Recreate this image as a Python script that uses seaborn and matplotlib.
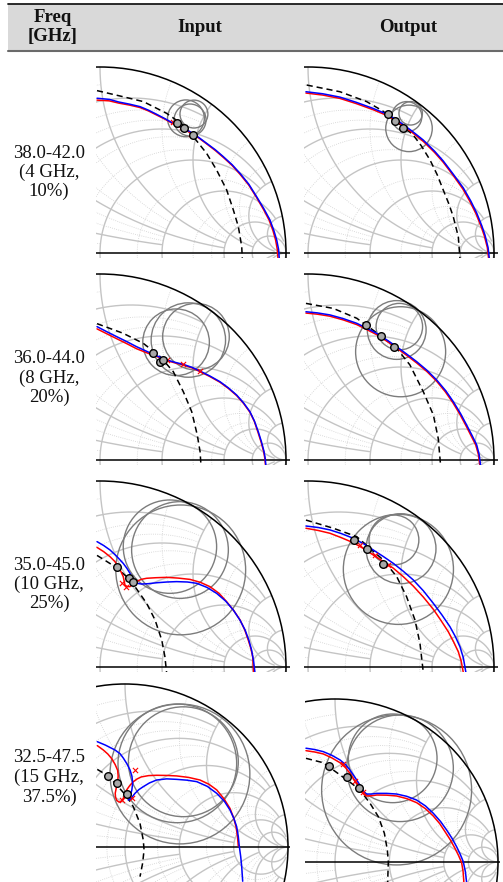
import numpy as np
import pandas as pd
import matplotlib
matplotlib.use("Agg")
import matplotlib.pyplot as plt
from matplotlib.patches import Circle, Rectangle
from matplotlib.lines import Line2D
import seaborn as sns

sns.set_style("white")
plt.rcParams["font.family"] = ["Liberation Serif", "DejaVu Serif"]

# ---------------------------------------------------------------- table text
header_cols = ["Input", "Output"]
freq_bands = ["38.0-42.0", "36.0-44.0", "35.0-45.0", "32.5-47.5"]
band_widths = ["(4 GHz,", "(8 GHz,", "(10 GHz,", "(15 GHz,"]
band_pcts = ["10%)", "20%)", "25%)", "37.5%)"]

# ---------------------------------------------------------------- Smith grid values
MAJOR_VALUES = [10, 5, 2, 1, 0.5, 0.2]
MAJOR_LIMITS = [np.inf, 30, 10, 5, 5, 2]
MINOR_VALUES = [0.1, 0.3, 0.4, 0.6, 0.8, 1.5, 3, 4]
MINOR_LIMITS = [1, 2, 2, 2, 2, 5, 10, 10]

# ---------------------------------------------------------------- reflection data (Re, Im)
# 38-42 GHz, input
in1_blue = [(-0.016, 0.832), (0.05, 0.826), (0.1, 0.812), (0.16, 0.800), (0.215, 0.787),
            (0.26, 0.768), (0.3, 0.748), (0.35, 0.722), (0.394, 0.697), (0.44, 0.675),
            (0.484, 0.652), (0.53, 0.622), (0.573, 0.590), (0.62, 0.555), (0.663, 0.518),
            (0.71, 0.475), (0.753, 0.428), (0.80, 0.37), (0.842, 0.303), (0.88, 0.24),
            (0.914, 0.177), (0.935, 0.12), (0.950, 0.070), (0.96, 0.02), (0.964, -0.03)]
in1_red = [(-0.016, 0.822), (0.05, 0.818), (0.1, 0.806), (0.16, 0.795), (0.215, 0.782),
           (0.26, 0.764), (0.3, 0.744), (0.35, 0.719), (0.394, 0.694), (0.44, 0.672),
           (0.484, 0.649), (0.53, 0.619), (0.573, 0.587), (0.62, 0.551), (0.663, 0.514),
           (0.71, 0.471), (0.753, 0.423), (0.80, 0.365), (0.842, 0.298), (0.878, 0.236),
           (0.91, 0.175), (0.93, 0.12), (0.944, 0.07), (0.953, 0.02), (0.957, -0.03)]
in1_dash = [(-0.016, 0.873), (0.125, 0.840), (0.233, 0.814), (0.358, 0.751), (0.448, 0.688),
            (0.502, 0.625), (0.573, 0.536), (0.627, 0.446), (0.681, 0.339), (0.717, 0.231),
            (0.744, 0.141), (0.762, 0.034), (0.765, -0.03)]
in1_rings = [(0.462, 0.724, 0.099), (0.505, 0.747, 0.075), (0.484, 0.715, 0.086)]
in1_dots = [(0.416, 0.701), (0.452, 0.674), (0.498, 0.634)]
in1_marks = [(0.395, 0.705), (0.44, 0.68), (0.49, 0.64)]

# 38-42 GHz, output
out1_blue = [(-0.011, 0.867), (0.08, 0.856), (0.172, 0.838), (0.26, 0.81), (0.351, 0.777),
             (0.43, 0.744), (0.495, 0.703), (0.56, 0.655), (0.62, 0.607), (0.68, 0.548),
             (0.727, 0.495), (0.78, 0.425), (0.835, 0.35), (0.875, 0.28), (0.907, 0.215),
             (0.935, 0.145), (0.952, 0.095), (0.968, 0.03), (0.975, -0.03)]
out1_red = [(-0.011, 0.860), (0.08, 0.849), (0.172, 0.831), (0.26, 0.803), (0.351, 0.770),
            (0.43, 0.737), (0.495, 0.696), (0.56, 0.648), (0.62, 0.600), (0.68, 0.541),
            (0.727, 0.488), (0.78, 0.418), (0.832, 0.345), (0.871, 0.276), (0.903, 0.211),
            (0.931, 0.142), (0.948, 0.092), (0.964, 0.03), (0.971, -0.03)]
out1_dash = [(-0.007, 0.903), (0.172, 0.867), (0.315, 0.814), (0.40, 0.765), (0.47, 0.71),
             (0.53, 0.665), (0.566, 0.634), (0.61, 0.575), (0.656, 0.5), (0.695, 0.42),
             (0.727, 0.339), (0.757, 0.265), (0.781, 0.195), (0.808, 0.088), (0.817, -0.03)]
out1_rings = [(0.543, 0.670, 0.125), (0.531, 0.733, 0.081), (0.552, 0.751, 0.063)]
out1_dots = [(0.428, 0.746), (0.468, 0.710), (0.512, 0.674)]
out1_marks = []

# 36-44 GHz, input
in2_blue = [(-0.016, 0.717), (0.04, 0.688), (0.09, 0.663), (0.145, 0.636), (0.197, 0.609),
            (0.245, 0.587), (0.287, 0.568), (0.325, 0.552), (0.358, 0.538), (0.40, 0.526),
            (0.448, 0.514), (0.495, 0.498), (0.538, 0.478), (0.59, 0.452), (0.645, 0.421),
            (0.69, 0.388), (0.735, 0.349), (0.772, 0.307), (0.806, 0.26), (0.83, 0.21),
            (0.851, 0.152), (0.868, 0.098), (0.882, 0.045), (0.888, 0.01), (0.892, -0.03)]
in2_red = [(-0.016, 0.705), (0.04, 0.677), (0.09, 0.652), (0.145, 0.625), (0.197, 0.598),
           (0.245, 0.579), (0.287, 0.563), (0.325, 0.549), (0.358, 0.535), (0.40, 0.523),
           (0.448, 0.511), (0.495, 0.495), (0.538, 0.475), (0.59, 0.449), (0.645, 0.418),
           (0.69, 0.385), (0.735, 0.346), (0.772, 0.304), (0.806, 0.257), (0.83, 0.207),
           (0.849, 0.15), (0.866, 0.097), (0.88, 0.045), (0.886, 0.01), (0.89, -0.03)]
in2_dash = [(-0.016, 0.733), (0.125, 0.681), (0.233, 0.627), (0.323, 0.556), (0.394, 0.475),
            (0.448, 0.367), (0.493, 0.26), (0.523, 0.134), (0.538, 0.045), (0.543, -0.03)]
in2_rings = [(0.409, 0.633, 0.179), (0.475, 0.645, 0.2), (0.516, 0.663, 0.179)]
in2_dots = [(0.287, 0.574), (0.323, 0.529), (0.34, 0.539)]
in2_marks = [(0.358, 0.538), (0.448, 0.514), (0.538, 0.478)]

# 36-44 GHz, output
out2_blue = [(-0.011, 0.797), (0.05, 0.791), (0.118, 0.78), (0.19, 0.76), (0.262, 0.735),
             (0.315, 0.709), (0.369, 0.681), (0.423, 0.646), (0.477, 0.609), (0.53, 0.57),
             (0.584, 0.529), (0.64, 0.482), (0.692, 0.43), (0.74, 0.373), (0.781, 0.314),
             (0.82, 0.25), (0.853, 0.188), (0.883, 0.13), (0.907, 0.081), (0.92, 0.03),
             (0.928, -0.03)]
out2_red = [(-0.011, 0.790), (0.05, 0.784), (0.118, 0.773), (0.19, 0.753), (0.262, 0.728),
            (0.315, 0.702), (0.369, 0.674), (0.423, 0.639), (0.477, 0.602), (0.53, 0.563),
            (0.584, 0.522), (0.64, 0.475), (0.692, 0.423), (0.738, 0.367), (0.779, 0.308),
            (0.817, 0.245), (0.850, 0.183), (0.879, 0.126), (0.903, 0.078), (0.916, 0.03),
            (0.924, -0.03)]
out2_dash = [(-0.011, 0.842), (0.136, 0.815), (0.262, 0.762), (0.312, 0.726), (0.391, 0.668),
             (0.477, 0.6), (0.548, 0.511), (0.62, 0.367), (0.674, 0.242), (0.70, 0.117),
             (0.713, -0.03)]
out2_rings = [(0.498, 0.582, 0.242), (0.477, 0.699, 0.158), (0.491, 0.717, 0.125)]
out2_dots = [(0.312, 0.726), (0.391, 0.668), (0.462, 0.609)]
out2_marks = []

# 35-45 GHz, input
in3_blue = [(-0.016, 0.674), (0.02, 0.653), (0.054, 0.629), (0.09, 0.595), (0.125, 0.557),
            (0.145, 0.53), (0.161, 0.504), (0.175, 0.478), (0.188, 0.459), (0.205, 0.449),
            (0.224, 0.446), (0.26, 0.448), (0.305, 0.453), (0.36, 0.457), (0.412, 0.459),
            (0.47, 0.457), (0.52, 0.45), (0.575, 0.428), (0.627, 0.396), (0.675, 0.355),
            (0.717, 0.306), (0.752, 0.253), (0.78, 0.199), (0.8, 0.145), (0.815, 0.091),
            (0.826, 0.03), (0.833, -0.03)]
in3_red = [(-0.016, 0.643), (0.02, 0.62), (0.054, 0.593), (0.08, 0.567), (0.098, 0.539),
           (0.113, 0.512), (0.125, 0.486), (0.13, 0.462), (0.134, 0.441), (0.145, 0.433),
           (0.161, 0.432), (0.18, 0.448), (0.2, 0.462), (0.225, 0.472), (0.251, 0.477),
           (0.3, 0.48), (0.358, 0.482), (0.42, 0.478), (0.484, 0.471), (0.54, 0.455),
           (0.591, 0.432), (0.64, 0.396), (0.681, 0.351), (0.72, 0.302), (0.753, 0.253),
           (0.778, 0.2), (0.797, 0.145), (0.811, 0.1), (0.821, 0.055), (0.826, -0.03)]
in3_dash = [(-0.016, 0.6), (0.018, 0.579), (0.086, 0.536), (0.143, 0.486), (0.188, 0.432),
            (0.251, 0.342), (0.296, 0.253), (0.332, 0.145), (0.349, 0.055), (0.358, -0.03)]
in3_rings = [(0.376, 0.647, 0.251), (0.430, 0.629, 0.26), (0.434, 0.522, 0.349)]
in3_dots = [(0.09, 0.536), (0.158, 0.477), (0.176, 0.459)]
in3_marks = [(0.12, 0.45), (0.14, 0.43)]

# 35-45 GHz, output
out3_blue = [(-0.011, 0.758), (0.055, 0.75), (0.118, 0.737), (0.18, 0.717), (0.244, 0.692),
             (0.3, 0.662), (0.351, 0.629), (0.405, 0.594), (0.459, 0.557), (0.512, 0.515),
             (0.566, 0.468), (0.62, 0.41), (0.674, 0.342), (0.72, 0.28), (0.763, 0.217),
             (0.793, 0.162), (0.817, 0.109), (0.835, 0.05), (0.849, -0.03)]
out3_red = [(-0.011, 0.746), (0.055, 0.734), (0.118, 0.719), (0.18, 0.695), (0.244, 0.668),
            (0.3, 0.636), (0.351, 0.602), (0.405, 0.567), (0.459, 0.531), (0.512, 0.486),
            (0.566, 0.435), (0.62, 0.376), (0.674, 0.31), (0.715, 0.25), (0.754, 0.19),
            (0.783, 0.135), (0.808, 0.082), (0.824, 0.03), (0.835, -0.03)]
out3_dash = [(-0.011, 0.79), (0.136, 0.746), (0.262, 0.701), (0.405, 0.575), (0.477, 0.486),
             (0.53, 0.378), (0.575, 0.253), (0.602, 0.127), (0.62, -0.03)]
out3_rings = [(0.486, 0.525, 0.296), (0.5, 0.636, 0.188), (0.462, 0.683, 0.134)]
out3_dots = [(0.249, 0.683), (0.319, 0.633), (0.401, 0.554)]
out3_marks = [(0.28, 0.655), (0.36, 0.6), (0.43, 0.55)]

# 32.5-47.5 GHz, input
in4_blue = [(-0.17, 0.646), (-0.12, 0.625), (-0.061, 0.595), (-0.03, 0.572), (-0.01, 0.545),
            (0.012, 0.51), (0.031, 0.472), (0.043, 0.432), (0.047, 0.391), (0.042, 0.35),
            (0.031, 0.309), (0.02, 0.288), (0.035, 0.295), (0.061, 0.329), (0.085, 0.352),
            (0.112, 0.37), (0.15, 0.393), (0.194, 0.411), (0.255, 0.418), (0.317, 0.415),
            (0.38, 0.41), (0.44, 0.401), (0.505, 0.372), (0.563, 0.329), (0.61, 0.28),
            (0.644, 0.227), (0.668, 0.175), (0.685, 0.125), (0.695, 0.065), (0.701, 0.006),
            (0.71, -0.06), (0.716, -0.121), (0.722, -0.21)]
in4_red = [(-0.17, 0.622), (-0.133, 0.595), (-0.105, 0.57), (-0.08, 0.54), (-0.06, 0.505),
           (-0.045, 0.47), (-0.042, 0.435), (-0.045, 0.40), (-0.053, 0.365), (-0.06, 0.33),
           (-0.058, 0.305), (-0.05, 0.285), (-0.035, 0.275), (-0.02, 0.282), (-0.01, 0.30),
           (0.0, 0.325), (0.01, 0.35), (0.03, 0.378), (0.05, 0.40), (0.075, 0.418),
           (0.1, 0.43), (0.145, 0.438), (0.194, 0.44), (0.255, 0.439), (0.317, 0.436),
           (0.39, 0.427), (0.46, 0.411), (0.515, 0.385), (0.563, 0.35), (0.607, 0.296),
           (0.644, 0.237), (0.666, 0.18), (0.681, 0.125), (0.69, 0.065), (0.695, 0.006)]
in4_dash = [(-0.17, 0.476), (-0.102, 0.436), (-0.051, 0.38), (0.006, 0.316), (0.051, 0.247),
            (0.092, 0.145), (0.112, 0.043), (0.117, -0.018), (0.108, -0.1), (0.092, -0.182)]
in4_rings = [(0.337, 0.448, 0.429), (0.321, 0.513, 0.364), (0.358, 0.523, 0.337)]
in4_dots = [(-0.102, 0.436), (-0.047, 0.391), (0.01, 0.325)]
in4_marks = [(-0.02, 0.29), (0.04, 0.30), (0.06, 0.47)]

# 32.5-47.5 GHz, output
out4_blue = [(-0.178, 0.698), (-0.125, 0.69), (-0.072, 0.677), (-0.02, 0.655), (0.031, 0.626),
             (0.065, 0.597), (0.092, 0.564), (0.113, 0.533), (0.133, 0.503), (0.15, 0.476),
             (0.164, 0.452), (0.178, 0.43), (0.194, 0.417), (0.222, 0.417), (0.256, 0.421),
             (0.317, 0.421), (0.378, 0.417), (0.44, 0.403), (0.501, 0.38), (0.555, 0.344),
             (0.603, 0.299), (0.648, 0.248), (0.685, 0.196), (0.718, 0.145), (0.746, 0.094),
             (0.768, 0.048), (0.787, 0.002), (0.8, -0.06), (0.808, -0.13)]
out4_red = [(-0.178, 0.683), (-0.125, 0.675), (-0.072, 0.663), (-0.02, 0.639), (0.031, 0.609),
            (0.065, 0.578), (0.092, 0.544), (0.113, 0.512), (0.133, 0.482), (0.15, 0.455),
            (0.164, 0.431), (0.178, 0.414), (0.194, 0.405), (0.222, 0.406), (0.256, 0.411),
            (0.317, 0.41), (0.378, 0.405), (0.44, 0.389), (0.501, 0.364), (0.555, 0.327),
            (0.603, 0.282), (0.642, 0.236), (0.675, 0.186), (0.708, 0.135), (0.736, 0.084),
            (0.758, 0.04), (0.777, -0.004), (0.786, -0.06), (0.791, -0.13)]
out4_dash = [(-0.178, 0.636), (-0.072, 0.609), (0.031, 0.534), (0.102, 0.482), (0.153, 0.442),
             (0.215, 0.36), (0.266, 0.278), (0.303, 0.176), (0.321, 0.074), (0.327, 0.002),
             (0.323, -0.13)]
out4_rings = [(0.378, 0.442, 0.46), (0.399, 0.575, 0.327), (0.354, 0.636, 0.272)]
out4_dots = [(-0.035, 0.589), (0.075, 0.52), (0.149, 0.452)]
out4_marks = [(0.05, 0.60), (0.12, 0.50), (0.17, 0.43)]

panel_data = [
    (in1_blue, in1_red, in1_dash, in1_rings, in1_dots, in1_marks),
    (out1_blue, out1_red, out1_dash, out1_rings, out1_dots, out1_marks),
    (in2_blue, in2_red, in2_dash, in2_rings, in2_dots, in2_marks),
    (out2_blue, out2_red, out2_dash, out2_rings, out2_dots, out2_marks),
    (in3_blue, in3_red, in3_dash, in3_rings, in3_dots, in3_marks),
    (out3_blue, out3_red, out3_dash, out3_rings, out3_dots, out3_marks),
    (in4_blue, in4_red, in4_dash, in4_rings, in4_dots, in4_marks),
    (out4_blue, out4_red, out4_dash, out4_rings, out4_dots, out4_marks),
]

# ---------------------------------------------------------------- layout (pixels)
FIG_W, FIG_H = 503, 882
# chart centre x, centre y, radius, and crop box x0, x1, y0, y1
panel_boxes = [
    (100, 253, 186, 96, 290, 62, 258), (308, 253, 186, 304, 498, 62, 258),
    (100, 460, 186, 96, 290, 269, 465), (308, 460, 186, 304, 498, 269, 465),
    (100, 667, 186, 96, 290, 476, 672), (308, 667, 186, 304, 498, 476, 672),
    (125, 847, 163, 96, 290, 680, 882), (335, 862, 163, 305, 500, 680, 882),
]
row_text_y = [(153, 172, 191), (358, 378, 397), (565, 584, 603), (758, 777, 797)]

fig = plt.figure(figsize=(FIG_W / 100, FIG_H / 100), dpi=100)


def fx(px):
    return px / FIG_W


def fy(py):
    return 1 - py / FIG_H


# header band
fig.add_artist(Rectangle((fx(8), fy(50)), 1 - fx(8), fy(4) - fy(50),
                         transform=fig.transFigure, facecolor="#d9d9d9",
                         edgecolor="none", zorder=0))
fig.add_artist(Line2D([fx(8), 1], [fy(3.8), fy(3.8)], color="#1a1a1a", lw=1.3,
                      transform=fig.transFigure))
fig.add_artist(Line2D([fx(8), 1], [fy(50.5), fy(50.5)], color="#6a6a6a", lw=1.5,
                      transform=fig.transFigure))
hdr = dict(ha="center", va="center", fontsize=13.5, fontweight="bold", color="#111111")
fig.text(fx(53), fy(18), "Freq", **hdr)
fig.text(fx(53), fy(37), "[GHz]", **hdr)
fig.text(fx(200), fy(28), header_cols[0], **hdr)
fig.text(fx(408), fy(28), header_cols[1], **hdr)

lbl = dict(ha="center", va="center", fontsize=13.5, color="#111111")
for (y1, y2, y3), band, width, pct in zip(row_text_y, freq_bands, band_widths, band_pcts):
    fig.text(fx(49), fy(y1), band, **lbl)
    fig.text(fx(49), fy(y2), width, **lbl)
    fig.text(fx(49), fy(y3), pct, **lbl)


def smith_grid(ax):
    phi = np.linspace(0, 2 * np.pi, 2400)
    styles = ((MAJOR_VALUES, MAJOR_LIMITS, "#c4c4c4", 1.0, "-"),
              (MINOR_VALUES, MINOR_LIMITS, "#d0d0d0", 0.6, (0, (1, 1.6))))
    with np.errstate(divide="ignore", invalid="ignore"):
        for vals, lims, col, lw, ls in styles:
            for v, lim in zip(vals, lims):
                # constant-resistance circle, clipped at |x| <= lim
                g = v / (1 + v) + np.exp(1j * phi) / (1 + v)
                z = (1 + g) / (1 - g)
                keep = np.abs(z.imag) <= lim
                ax.plot(np.where(keep, g.real, np.nan), g.imag, color=col, lw=lw,
                        ls=ls, zorder=1)
                # constant-reactance arcs, clipped at r <= lim
                for s in (1, -1):
                    g = 1 + 1j * s / v + np.exp(1j * phi) / v
                    z = (1 + g) / (1 - g)
                    keep = (np.abs(g) <= 1.0) & (z.real <= lim)
                    ax.plot(np.where(keep, g.real, np.nan), g.imag, color=col, lw=lw,
                            ls=ls, zorder=1)


def trace(ax, pts, color, lw, ls, z):
    df = pd.DataFrame(pts, columns=["re", "im"])
    sns.lineplot(data=df, x="re", y="im", sort=False, estimator=None, color=color,
                 lw=lw, linestyle=ls, ax=ax, zorder=z, legend=False)


for (cx, cy, R, x0, x1, y0, y1), (blue, red, dash, rings, dots, marks) in zip(panel_boxes, panel_data):
    ax = fig.add_axes([fx(x0), fy(y1), (x1 - x0) / FIG_W, (y1 - y0) / FIG_H])
    smith_grid(ax)
    ax.add_patch(Circle((0, 0), 1, fill=False, ec="black", lw=1.1, zorder=3))
    ax.axhline(0, color="black", lw=1.1, zorder=3)
    for (rx, ry, rr) in rings:
        ax.add_patch(Circle((rx, ry), rr, fill=False, ec="#7c7c7c", lw=1.0, zorder=2))
    trace(ax, dash, "black", 1.1, (0, (4, 2.6)), 4)
    trace(ax, red, "#ff0000", 1.1, "-", 5)
    trace(ax, blue, "#0000ff", 1.1, "-", 6)
    if marks:
        mdf = pd.DataFrame(marks, columns=["re", "im"])
        sns.scatterplot(data=mdf, x="re", y="im", marker="x", s=14, color="#ff0000",
                        linewidth=0.8, ax=ax, zorder=6, legend=False)
    ddf = pd.DataFrame(dots, columns=["re", "im"])
    sns.scatterplot(data=ddf, x="re", y="im", s=30, color="#a8a8a8", edgecolor="black",
                    linewidth=1.0, ax=ax, zorder=7, legend=False)
    ax.set_xlim((x0 - cx) / R, (x1 - cx) / R)
    ax.set_ylim((cy - y1) / R, (cy - y0) / R)
    ax.set_axis_off()

fig.savefig("out.png", dpi=100)
